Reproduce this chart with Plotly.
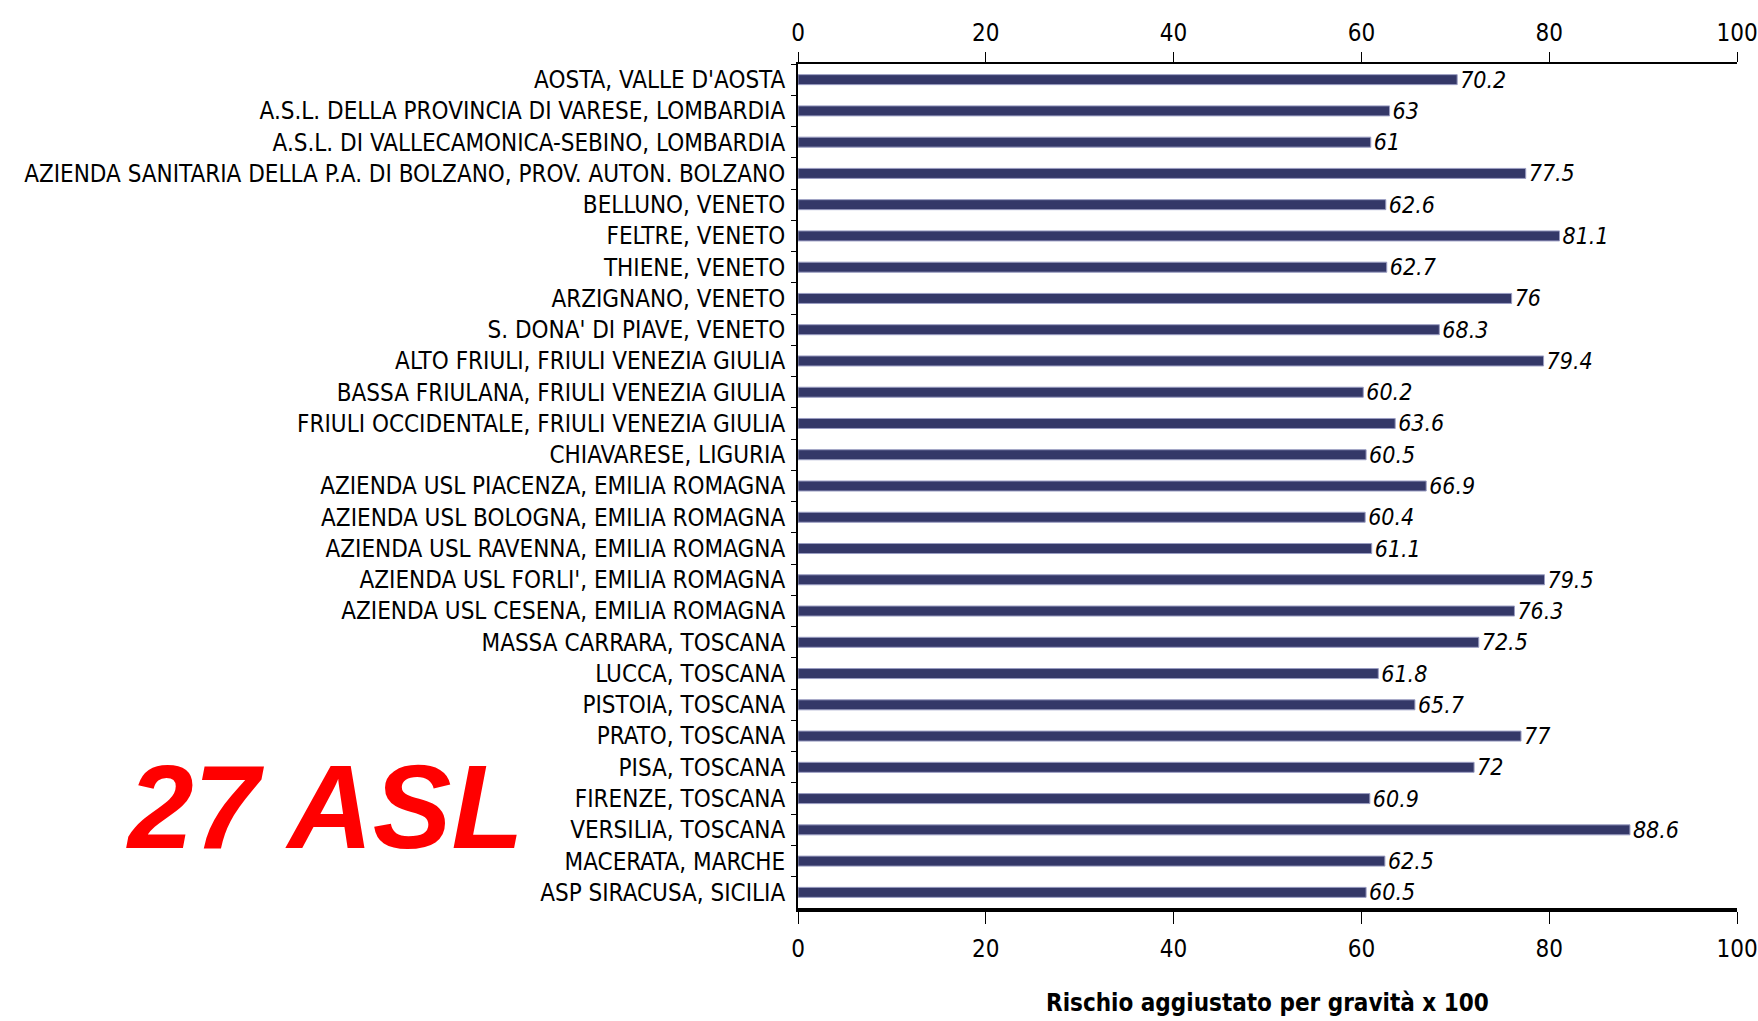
import plotly.graph_objects as go

categories = [
    "AOSTA, VALLE D'AOSTA",
    "A.S.L. DELLA PROVINCIA DI VARESE, LOMBARDIA",
    "A.S.L. DI VALLECAMONICA-SEBINO, LOMBARDIA",
    "AZIENDA SANITARIA DELLA P.A. DI BOLZANO, PROV. AUTON. BOLZANO",
    "BELLUNO, VENETO",
    "FELTRE, VENETO",
    "THIENE, VENETO",
    "ARZIGNANO, VENETO",
    "S. DONA' DI PIAVE, VENETO",
    "ALTO FRIULI, FRIULI VENEZIA GIULIA",
    "BASSA FRIULANA, FRIULI VENEZIA GIULIA",
    "FRIULI OCCIDENTALE, FRIULI VENEZIA GIULIA",
    "CHIAVARESE, LIGURIA",
    "AZIENDA USL PIACENZA, EMILIA ROMAGNA",
    "AZIENDA USL BOLOGNA, EMILIA ROMAGNA",
    "AZIENDA USL RAVENNA, EMILIA ROMAGNA",
    "AZIENDA USL FORLI', EMILIA ROMAGNA",
    "AZIENDA USL CESENA, EMILIA ROMAGNA",
    "MASSA CARRARA, TOSCANA",
    "LUCCA, TOSCANA",
    "PISTOIA, TOSCANA",
    "PRATO, TOSCANA",
    "PISA, TOSCANA",
    "FIRENZE, TOSCANA",
    "VERSILIA, TOSCANA",
    "MACERATA, MARCHE",
    "ASP SIRACUSA, SICILIA",
]
values = [70.2, 63, 61, 77.5, 62.6, 81.1, 62.7, 76, 68.3, 79.4, 60.2, 63.6, 60.5,
          66.9, 60.4, 61.1, 79.5, 76.3, 72.5, 61.8, 65.7, 77, 72, 60.9, 88.6, 62.5, 60.5]
value_labels = [f"{v:g}" for v in values]
tick_vals = [0, 20, 40, 60, 80, 100]
axis_title = "Rischio aggiustato per gravità x 100"
big_label = "27 ASL"

FONT = "DejaVu Sans Condensed, Liberation Sans Narrow, Arial Narrow, Liberation Sans, sans-serif"

fig = go.Figure()
fig.add_trace(go.Bar(
    x=values, y=categories, orientation="h",
    width=0.32,
    marker=dict(color="#343868", line=dict(color="#9a9dc2", width=1)),
    text=value_labels, textposition="outside", cliponaxis=False,
    constraintext="none",
    textfont=dict(family=FONT, size=23, color="black", style="italic"),
    xaxis="x", yaxis="y",
))
# invisible trace on top axis
fig.add_trace(go.Scatter(x=[0, 100], y=[categories[0], categories[0]], mode="markers",
                         marker=dict(opacity=0), xaxis="x2", yaxis="y",
                         hoverinfo="skip", showlegend=False))

n = len(categories)
fig.update_layout(
    width=1758, height=1021,
    margin=dict(l=798, r=21, t=64, b=113, autoexpand=False),
    paper_bgcolor="white", plot_bgcolor="white",
    showlegend=False,
    font=dict(family=FONT, color="black"),
    xaxis=dict(range=[0, 100], tickvals=tick_vals, showgrid=False, zeroline=False,
               showline=True, linecolor="black", linewidth=4,
               ticks="outside", ticklen=12, tickwidth=1, tickcolor="black",
               tickfont=dict(family=FONT, size=24, color="black"), ticklabelstandoff=4),
    xaxis2=dict(range=[0, 100], tickvals=tick_vals, overlaying="x", side="top",
                showgrid=False, zeroline=False,
                showline=True, linecolor="black", linewidth=2,
                ticks="outside", ticklen=10, tickwidth=1, tickcolor="black",
                tickfont=dict(family=FONT, size=24, color="black"), ticklabelstandoff=1),
    yaxis=dict(range=[n - 0.5, -0.5], type="category", showgrid=False, zeroline=False,
               showline=True, linecolor="black", linewidth=2,
               ticks="outside", ticklen=5, tickwidth=1, tickcolor="black",
               tickson="boundaries",
               tickfont=dict(family=FONT, size=24, color="black"), ticklabelstandoff=6),
    annotations=[
        dict(text=axis_title, xref="paper", yref="paper", x=0.5, y=-0.113,
             xanchor="center", yanchor="middle", showarrow=False,
             font=dict(family=FONT, size=24, color="black", weight="bold")),
        dict(text=big_label, xref="paper", yref="paper", x=-0.504, y=0.1197,
             xanchor="center", yanchor="middle", showarrow=False,
             font=dict(family="Liberation Sans, Arial, sans-serif", size=118, color="#ff0000",
                       weight="bold", style="italic")),
    ],
)

fig.write_html("out.html", config={"displayModeBar": False},
               post_script="document.body.style.margin='0';document.body.style.overflow='hidden';")
